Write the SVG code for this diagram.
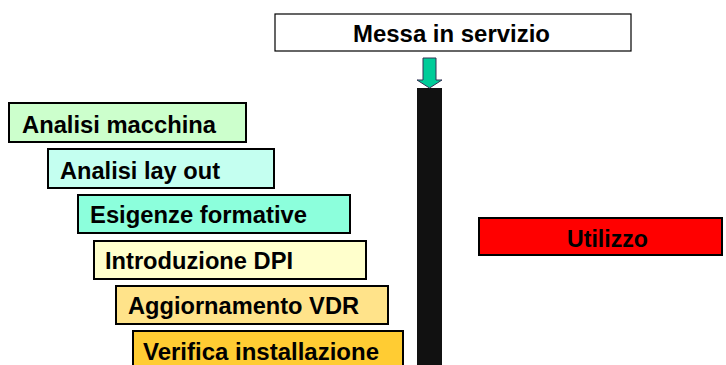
<svg xmlns="http://www.w3.org/2000/svg" width="726" height="365" viewBox="0 0 726 365">
<style>
.box{stroke:#000;stroke-width:2}
.t{font-family:"Liberation Sans",Arial,sans-serif;font-weight:bold;font-size:23.5px;fill:#000}
</style>
<rect width="726" height="365" fill="#fff"/>
<g id="messa">
<rect x="275" y="14" width="356" height="37" fill="#fff" stroke="#000" stroke-width="1.2"/>
<text class="t" x="353" y="42" textLength="197" lengthAdjust="spacingAndGlyphs">Messa in servizio</text>
</g>
<g id="connectors">
<rect x="417" y="88" width="25" height="277" fill="#111"/>
<path d="M423,58 H436 V80 H442 L429.5,88 L417,80 H423 Z" fill="#00CC99" stroke="#335" stroke-width="1"/>
</g>
<g id="n1"><rect class="box" x="9" y="103" width="237" height="39" fill="#CCFFCC"/><text class="t" x="22" y="133" textLength="194" lengthAdjust="spacingAndGlyphs">Analisi macchina</text></g>
<g id="n2"><rect class="box" x="48" y="149" width="226" height="39" fill="#C4FFF0"/><text class="t" x="60" y="179" textLength="160" lengthAdjust="spacingAndGlyphs">Analisi lay out</text></g>
<g id="n3"><rect class="box" x="78" y="195" width="272" height="38" fill="#8CFFDC"/><text class="t" x="90" y="223" textLength="217" lengthAdjust="spacingAndGlyphs">Esigenze formative</text></g>
<g id="n4"><rect class="box" x="94" y="241" width="272" height="38" fill="#FFFFCC"/><text class="t" x="105" y="269" textLength="188" lengthAdjust="spacingAndGlyphs">Introduzione DPI</text></g>
<g id="n5"><rect class="box" x="116" y="286" width="272" height="38" fill="#FFE38A"/><text class="t" x="128" y="314" textLength="231" lengthAdjust="spacingAndGlyphs">Aggiornamento VDR</text></g>
<g id="n6"><rect class="box" x="133" y="331" width="270" height="40" fill="#FFCC33"/><text class="t" x="143" y="360" textLength="236" lengthAdjust="spacingAndGlyphs">Verifica installazione</text></g>
<g id="utilizzo"><rect class="box" x="479" y="218" width="243" height="37" fill="#FF0000"/><text class="t" x="567" y="247" textLength="81" lengthAdjust="spacingAndGlyphs">Utilizzo</text></g>
</svg>
